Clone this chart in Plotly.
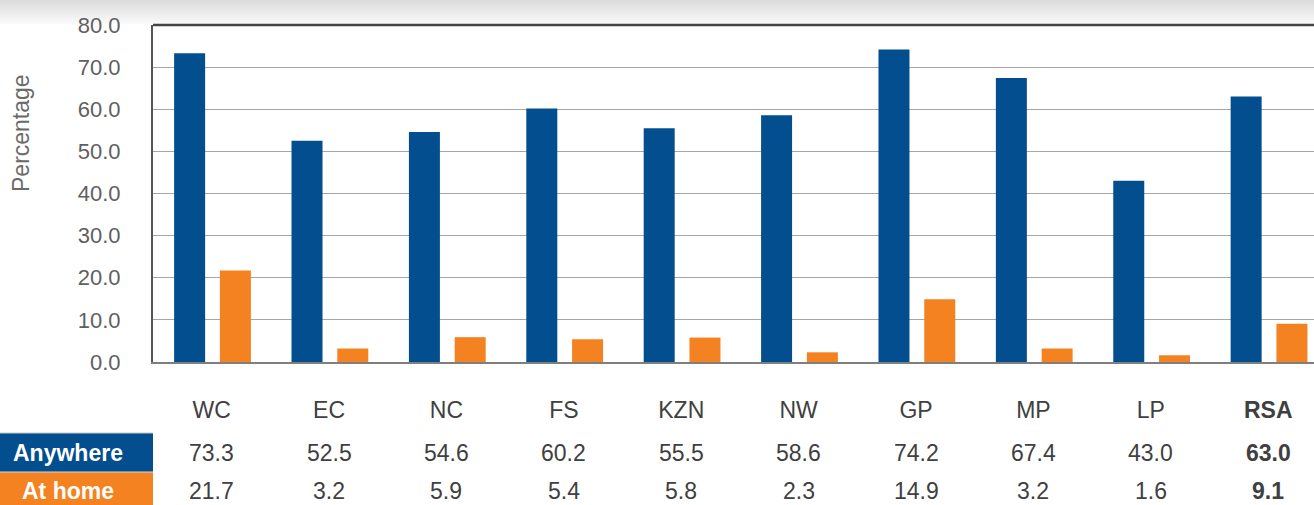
import plotly.graph_objects as go

categories = ["WC", "EC", "NC", "FS", "KZN", "NW", "GP", "MP", "LP", "RSA"]
anywhere = [73.3, 52.5, 54.6, 60.2, 55.5, 58.6, 74.2, 67.4, 43.0, 63.0]
at_home = [21.7, 3.2, 5.9, 5.4, 5.8, 2.3, 14.9, 3.2, 1.6, 9.1]
series_names = ["Anywhere", "At home"]
y_ticks = [0, 10, 20, 30, 40, 50, 60, 70, 80]

BLUE = "#034E8F"
ORANGE = "#F48220"
FONT = "Liberation Sans, Arial, sans-serif"

W, H = 1314, 505
L, R, T, B = 153, 0, 25, 143
ph = H - T - B  # plot height in px
pw = W - L - R


def py(p):
    """pixel row -> paper y"""
    return (H - B - p) / ph


def px(p):
    return (p - L) / pw


fig = go.Figure()
fig.add_trace(go.Bar(x=categories, y=anywhere, name=series_names[0],
                     marker=dict(color=BLUE, line=dict(width=0)),
                     width=0.264, offset=-0.32))
fig.add_trace(go.Bar(x=categories, y=at_home, name=series_names[1],
                     marker=dict(color=ORANGE, line=dict(width=0)),
                     width=0.264, offset=0.07))

shapes = []
# top gray gradient band
n = 24
for i in range(n):
    g = int(0xDC + (0xFA - 0xDC) * i / (n - 1))
    col = f"rgb({g},{g},{g})"
    shapes.append(dict(type="rect", xref="paper", yref="paper",
                       x0=px(0), x1=px(W), y0=py(i + 1), y1=py(i),
                       fillcolor=col, line=dict(width=0), layer="below"))
# top border of plot area
shapes.append(dict(type="line", xref="paper", yref="paper",
                   x0=0, x1=1, y0=1, y1=1,
                   line=dict(color="#454545", width=2.5)))
# table row boxes
shapes.append(dict(type="rect", xref="paper", yref="paper",
                   x0=px(0), x1=0, y0=py(472), y1=py(433),
                   fillcolor=BLUE, line=dict(width=0)))
shapes.append(dict(type="rect", xref="paper", yref="paper",
                   x0=px(0), x1=0, y0=py(H + 5), y1=py(472),
                   fillcolor=ORANGE, line=dict(width=0)))
shapes.append(dict(type="line", xref="paper", yref="paper",
                   x0=px(0), x1=0, y0=py(433), y1=py(433),
                   line=dict(color="#c8c8c8", width=1)))
shapes.append(dict(type="line", xref="paper", yref="paper",
                   x0=px(0), x1=0, y0=py(472), y1=py(472),
                   line=dict(color="#d8d8d8", width=1)))

annotations = []
annotations.append(dict(text="Percentage", xref="paper", yref="paper",
                        x=px(21), y=py(133), textangle=-90, showarrow=False,
                        xanchor="center", yanchor="middle",
                        font=dict(family=FONT, size=23, color="#6a6a6a")))
row_y = [453, 491]
for name, yy in zip(series_names, row_y):
    annotations.append(dict(text=f"<b>{name}</b>", xref="paper", yref="paper",
                            x=px(68), y=py(yy), showarrow=False,
                            xanchor="center", yanchor="middle",
                            font=dict(family=FONT, size=23, color="white")))
for series, yy in zip([anywhere, at_home], row_y):
    for c, v in zip(categories, series):
        t = f"{v:.1f}"
        if c == "RSA":
            t = f"<b>{t}</b>"
        annotations.append(dict(text=t, xref="x", yref="paper", x=c, y=py(yy),
                                showarrow=False, xanchor="center", yanchor="middle",
                                font=dict(family=FONT, size=23, color="#404040")))

ticktext = [f"<b>{c}</b>" if c == "RSA" else c for c in categories]

fig.update_layout(
    width=W, height=H,
    margin=dict(l=L, r=R, t=T, b=B, pad=0),
    paper_bgcolor="white", plot_bgcolor="white",
    showlegend=False,
    barmode="group",
    shapes=shapes,
    annotations=annotations,
    font=dict(family=FONT),
    xaxis=dict(type="category", categoryorder="array", categoryarray=categories,
               range=[-0.5, 9.39], tickmode="array", tickvals=categories,
               ticktext=ticktext, showgrid=False, showline=True,
               linecolor="#7f7f7f", linewidth=2, ticks="",
               tickfont=dict(family=FONT, size=23, color="#404040"),
               ticklabelstandoff=26, fixedrange=True),
    yaxis=dict(range=[0, 80], tickvals=y_ticks, tickformat=".1f",
               showgrid=True, gridcolor="#a6a6a6", gridwidth=1,
               showline=True, linecolor="#555555", linewidth=2,
               zeroline=False, ticks="",
               tickfont=dict(family=FONT, size=22, color="#5f5f5f"),
               ticklabelstandoff=26, fixedrange=True),
)

fig.write_html("out.html",
               config={"displayModeBar": False},
               post_script="document.body.style.margin='0';document.body.style.overflow='hidden';")
